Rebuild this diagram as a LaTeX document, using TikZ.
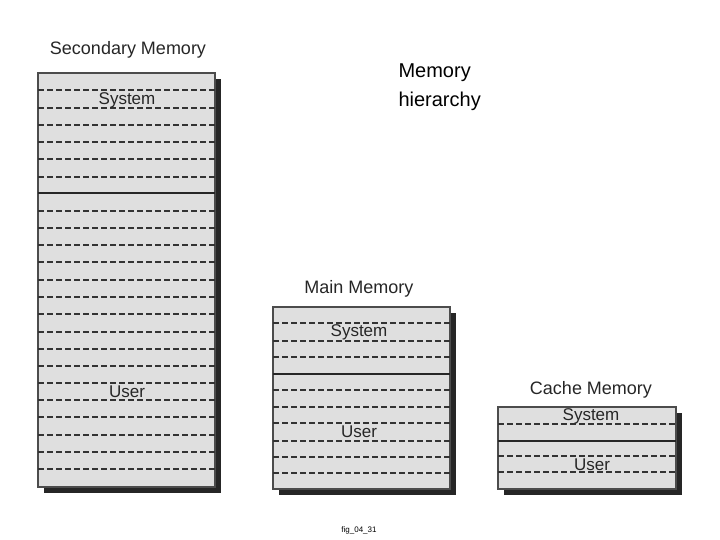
\documentclass[tikz,border=0pt]{standalone}
\usepackage{fontspec}
\setmainfont{Liberation Sans}
\begin{document}
\begin{tikzpicture}[x=1pt,y=-1pt,
  box/.style={fill=gray!25,draw=black!70,line width=1.2pt},
  shadow/.style={fill=black!85},
  dashln/.style={dash pattern=on 6pt off 3pt,line width=1.1pt,black!80},
  solidln/.style={line width=1.6pt,black!85},
  ttl/.style={font=\fontsize{18}{20}\selectfont,text=black!85},
  lbl/.style={font=\fontsize{17}{19}\selectfont,text=black!85}]
\useasboundingbox (0,0) rectangle (720,540);
% Secondary
\fill[shadow] (44,79) rectangle (221,493);
\draw[box] (38,73) rectangle (215,487);
\foreach \y in {90,108,125,142,159,177,211,228,245,262,280,297,314,332,349,366,383,400,417,435,452,469}
  \draw[dashln] (38,\y) -- (215,\y);
\draw[solidln] (38,193) -- (215,193);
\node[lbl] (s1) at (127,100) {System};
\node[lbl] (u1) at (127,392) {User};
\node[ttl] (t1) at (128,50) {Secondary Memory};
% Main
\fill[shadow] (279,313) rectangle (456,495);
\draw[box] (273,307) rectangle (450,489);
\foreach \y in {323,341,357,390,407,423,441,457,473}
  \draw[dashln] (273,\y) -- (450,\y);
\draw[solidln] (273,374) -- (450,374);
\node[lbl] (s2) at (359,332) {System};
\node[lbl] (u2) at (359,432) {User};
\node[ttl] (t2) at (359,289) {Main Memory};
% Cache
\fill[shadow] (504,413) rectangle (682,495);
\draw[box] (498,407) rectangle (676,489);
\foreach \y in {424,456,472}
  \draw[dashln] (498,\y) -- (676,\y);
\draw[solidln] (498,441) -- (676,441);
\node[lbl] (s3) at (591,416) {System};
\node[lbl] (u3) at (592,465) {User};
\node[ttl] (t3) at (591,390) {Cache Memory};
% title
\node[anchor=north west,align=left,font=\fontsize{20}{29}\selectfont] (h) at (395,60) {Memory\\hierarchy};
\node[font=\fontsize{8}{9}\selectfont] (f) at (359,530) {fig\_04\_31};
\end{tikzpicture}
\end{document}
